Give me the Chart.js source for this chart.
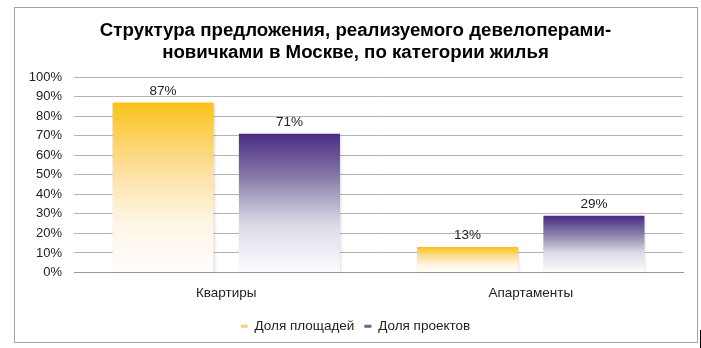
<!DOCTYPE html>
<html lang="ru">
<head>
<meta charset="utf-8">
<script src="https://cdn.jsdelivr.net/npm/chart.js@4/dist/chart.umd.min.js"></script>
<style>
  html, body { margin: 0; padding: 0; background: #fff; }
  #wrap { width: 701px; height: 348px; }
</style>
</head>
<body>
<div id="wrap"><canvas id="chart-bars"></canvas></div>
<script>
// данные
const categories = ["Квартиры", "Апартаменты"];
const seriesNames = ["Доля площадей", "Доля проектов"];
const areaShare = [87, 13];
const projectShare = [71, 29];
const yTicks = [0, 10, 20, 30, 40, 50, 60, 70, 80, 90, 100];

const FONT = '"Liberation Sans", Arial, sans-serif';
const legendColors = ["#f8d56a", "#6c6199"];

// точки градиента: цвет сверху столбца -> белый у основания
const gradientStops = [
  [[0, "#f9c21a"], [0.4, "#fde0a0"], [0.7, "#fff5e4"], [1, "#fffefc"]],
  [[0, "#4a2a84"], [0.3, "#8478a6"], [0.65, "#dcd9e6"], [1, "#fdfdfe"]],
];

// у каждого столбца свой градиент (функция, чтобы опции не были общими)
function barFill(di) {
  return (c) => {
    const chart = c.chart;
    const y = chart.scales.y;
    if (!chart.chartArea || !y || c.raw === undefined) return legendColors[di];
    const top = y.getPixelForValue(c.raw);
    const base = y.getPixelForValue(0);
    const g = chart.ctx.createLinearGradient(0, top, 0, base);
    gradientStops[di].forEach(([p, col]) => g.addColorStop(p, col));
    return g;
  };
}

// лёгкая тень у столбцов
const barShadow = {
  id: "barShadow",
  beforeDatasetsDraw(chart) {
    const ctx = chart.ctx;
    ctx.save();
    ctx.shadowColor = "rgba(0,0,0,0.18)";
    ctx.shadowBlur = 3;
    ctx.shadowOffsetX = 1;
    ctx.shadowOffsetY = 1;
  },
  afterDatasetsDraw(chart) {
    chart.ctx.restore();
  },
};

// подписи значений над столбцами
const valueLabels = {
  id: "valueLabels",
  afterDatasetsDraw(chart) {
    const ctx = chart.ctx;
    ctx.save();
    ctx.font = "13.5px " + FONT;
    ctx.fillStyle = "#222";
    ctx.textAlign = "center";
    ctx.textBaseline = "alphabetic";
    chart.data.datasets.forEach((ds, di) => {
      chart.getDatasetMeta(di).data.forEach((bar, i) => {
        ctx.fillText(ds.data[i] + "%", bar.x, bar.y - 8);
      });
    });
    ctx.restore();
  },
};

// рамка вокруг диаграммы
const frame = {
  id: "frame",
  beforeDraw(chart) {
    const ctx = chart.ctx;
    ctx.save();
    ctx.fillStyle = "#fff";
    ctx.fillRect(0, 0, chart.width, chart.height);
    ctx.strokeStyle = "#a6a6a6";
    ctx.lineWidth = 1;
    ctx.strokeRect(14.5, 7.5, 683, 335);
    ctx.strokeStyle = "#000";
    ctx.beginPath();
    ctx.moveTo(700.5, 330);
    ctx.lineTo(700.5, 348);
    ctx.stroke();
    ctx.restore();
  },
};

new Chart(document.getElementById("chart-bars"), {
  type: "bar",
  data: {
    labels: categories,
    datasets: [
      {
        label: seriesNames[0],
        data: areaShare,
        backgroundColor: barFill(0),
        borderWidth: 0,
      },
      {
        label: seriesNames[1],
        data: projectShare,
        backgroundColor: barFill(1),
        borderWidth: 0,
      },
    ],
  },
  plugins: [frame, barShadow, valueLabels],
  options: {
    responsive: true,
    maintainAspectRatio: false,
    animation: false,
    layout: { padding: { left: 28, right: 18, top: 0, bottom: 5 } },
    datasets: {
      bar: { categoryPercentage: 0.83, barPercentage: 0.8 },
    },
    scales: {
      x: {
        afterFit(scale) {
          scale.height = 37;
        },
        grid: { display: false, drawTicks: false },
        border: { color: "#9a9a9a" },
        ticks: {
          color: "#222",
          font: { family: FONT, size: 13.5 },
          padding: 13,
        },
      },
      y: {
        min: 0,
        max: 100,
        afterBuildTicks(scale) {
          scale.ticks = yTicks.map((v) => ({ value: v }));
        },
        afterFit(scale) {
          scale.width = 46;
        },
        grid: { color: "#b4b4b4", drawTicks: false },
        border: { display: false },
        ticks: {
          color: "#222",
          font: { family: FONT, size: 13 },
          padding: 12,
          callback: (v) => v + "%",
        },
      },
    },
    plugins: {
      title: {
        display: true,
        text: [
          "Структура предложения, реализуемого девелоперами-",
          "новичками в Москве, по категории жилья",
        ],
        color: "#000",
        font: { family: FONT, size: 18.7, weight: "bold", lineHeight: 1.18 },
        padding: { top: 20, bottom: 13 },
      },
      legend: {
        position: "bottom",
        labels: {
          color: "#222",
          font: { family: FONT, size: 13.5 },
          boxWidth: 7,
          boxHeight: 3,
          padding: 10,
          generateLabels: () =>
            seriesNames.map((name, i) => ({
              text: name,
              fillStyle: legendColors[i],
              strokeStyle: legendColors[i],
              lineWidth: 0,
              fontColor: "#222",
              datasetIndex: i,
            })),
        },
      },
      tooltip: { enabled: false },
    },
  },
});
</script>
</body>
</html>
